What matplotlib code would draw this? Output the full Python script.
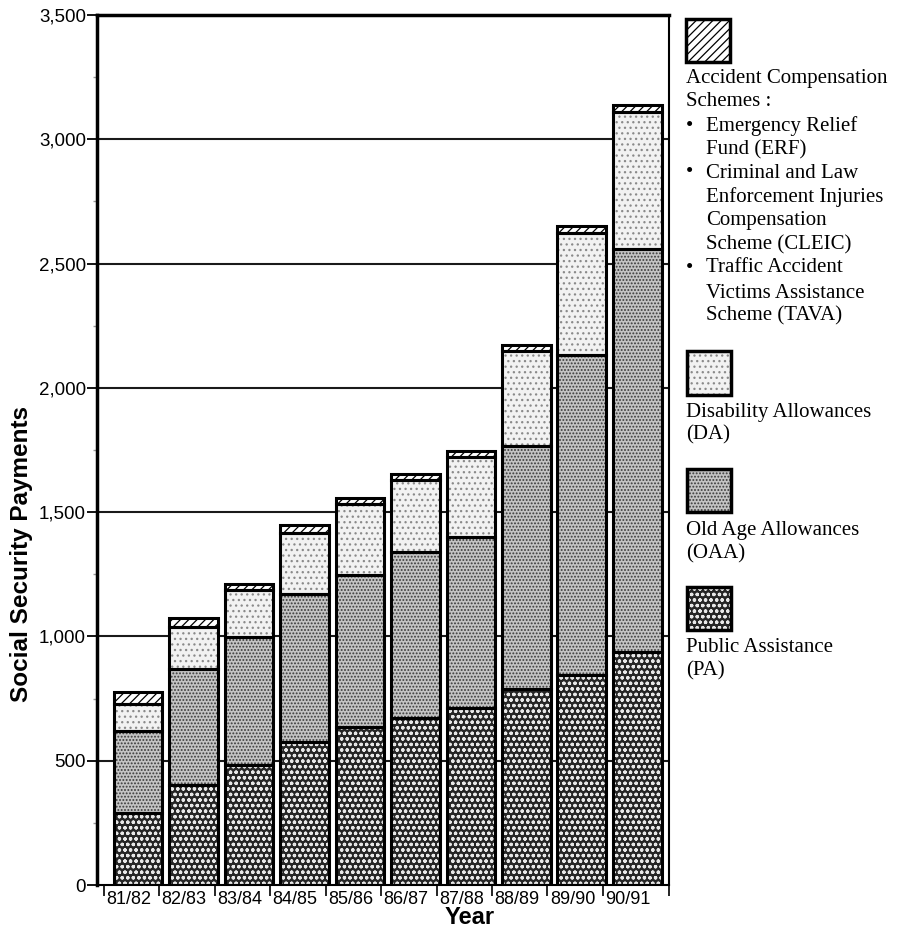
import matplotlib
matplotlib.use("Agg")
import matplotlib.pyplot as plt
from matplotlib.patches import Rectangle
import numpy as np

years = ["81/82", "82/83", "83/84", "84/85", "85/86",
         "86/87", "87/88", "88/89", "89/90", "90/91"]
pa  = [288, 402, 483, 577, 637, 670, 711, 789, 843, 938]
oaa = [331, 466, 513, 594, 610, 671, 688, 977, 1289, 1619]
da  = [108, 171, 191, 246, 284, 288, 324, 382, 492, 554]
ac  = [48, 36, 24, 31, 27, 26, 24, 24, 27, 27]

y_ticks = [0, 500, 1000, 1500, 2000, 2500, 3000, 3500]
y_tick_labels = ["0", "500", "1,000", "1,500", "2,000", "2,500", "3,000", "3,500"]

ac_text = [("", "Accident Compensation"), ("", "Schemes :"),
           ("•", "Emergency Relief"), ("", "Fund (ERF)"),
           ("•", "Criminal and Law"), ("", "Enforcement Injuries"),
           ("", "Compensation"), ("", "Scheme (CLEIC)"),
           ("•", "Traffic Accident"), ("", "Victims Assistance"),
           ("", "Scheme (TAVA)")]
da_text = ["Disability Allowances", "(DA)"]
oaa_text = ["Old Age Allowances", "(OAA)"]
pa_text = ["Public Assistance", "(PA)"]

# fill styles: (face, hatch, hatch colour)
st_pa  = ("#262626", "ooo", "#e8e8e8")
st_oaa = ("#c4c4c4", ".....", "#3a3a3a")
st_da  = ("#f2f2f2", "...", "#8a8a8a")
st_ac  = ("white", "////", "black")

plt.rcParams["hatch.linewidth"] = 0.9

W, H = 903, 936
fig = plt.figure(figsize=(W / 100, H / 100), dpi=100)
ax = fig.add_axes([97 / W, 1 - 885 / H, (669 - 97) / W, (885 - 15) / H])

def fx(px):
    return px / W

def fy(py):
    return 1 - py / H

x = np.arange(len(years))
bw = 0.88

def stack(vals, bottom, st):
    ax.bar(x, vals, bw, bottom=bottom, color=st[0], hatch=st[1],
           edgecolor=st[2], linewidth=0, zorder=2)
    ax.bar(x, vals, bw, bottom=bottom, facecolor="none",
           edgecolor="black", linewidth=2.2, zorder=3)

b = np.zeros(len(years))
for vals, st in [(pa, st_pa), (oaa, st_oaa), (da, st_da), (ac, st_ac)]:
    stack(vals, b, st)
    b = b + np.array(vals)

ax.set_xlim(-0.74, 9.57)
ax.set_ylim(0, 3500)
ax.set_axisbelow(True)
for yv in y_ticks[1:-1]:
    ax.axhline(yv, color="#1a1a1a", linewidth=1.5, zorder=1)

ax.set_yticks(y_ticks)
ax.set_yticklabels(y_tick_labels, family="Liberation Sans", fontsize=13.5)
ax.set_yticks(np.arange(250, 3500, 500), minor=True)
ax.tick_params(axis="y", which="major", direction="out", length=7, width=1.3, pad=1)
ax.tick_params(axis="y", which="minor", direction="out", length=3, width=1, color="#999")

ax.set_xticks(x - 0.17)
ax.set_xticklabels(years, family="Liberation Sans", fontsize=13)
ax.tick_params(axis="x", which="major", length=0, pad=4)
ax.set_xticks(np.append(x - 0.62, 9.57), minor=True)
ax.tick_params(axis="x", which="minor", direction="out", length=8, width=1.2)

ax.spines["left"].set_linewidth(2.5)
ax.spines["top"].set_linewidth(2.5)
ax.spines["right"].set_linewidth(1.5)
ax.spines["bottom"].set_linewidth(1.5)

fig.text(fx(22), fy(554), "Social Security Payments", rotation=90,
         ha="center", va="center", fontsize=17.5, fontweight="bold",
         family="Liberation Sans")
fig.text(fx(470), fy(918), "Year", ha="center", va="center",
         fontsize=17, fontweight="bold", family="Liberation Sans")

# legend drawn by hand on the right
def box(x0, y0, x1, y1, st):
    fig.add_artist(Rectangle((fx(x0), fy(y1)), fx(x1) - fx(x0), fy(y0) - fy(y1),
                             transform=fig.transFigure, facecolor=st[0],
                             hatch=st[1], edgecolor=st[2], linewidth=0))
    fig.add_artist(Rectangle((fx(x0), fy(y1)), fx(x1) - fx(x0), fy(y0) - fy(y1),
                             transform=fig.transFigure, facecolor="none",
                             edgecolor="black", linewidth=2.5))

lkw = dict(family="Liberation Serif", fontsize=15, va="center", ha="left")
box(686, 19, 730, 62, st_ac)
ly = [78, 102, 126, 150, 173, 197, 221, 245, 268, 293, 316]
for (bul, t), yy in zip(ac_text, ly):
    if bul:
        fig.text(fx(686), fy(yy), bul, **lkw)
    xx = 686 if yy < 110 else 706
    fig.text(fx(xx), fy(yy), t, **lkw)

box(687, 351, 731, 395, st_da)
for t, yy in zip(da_text, [412, 435]):
    fig.text(fx(686), fy(yy), t, **lkw)
box(687, 469, 731, 512, st_oaa)
for t, yy in zip(oaa_text, [531, 554]):
    fig.text(fx(686), fy(yy), t, **lkw)
box(687, 587, 731, 630, st_pa)
for t, yy in zip(pa_text, [648, 671]):
    fig.text(fx(686), fy(yy), t, **lkw)

fig.savefig("out.png", dpi=100)
